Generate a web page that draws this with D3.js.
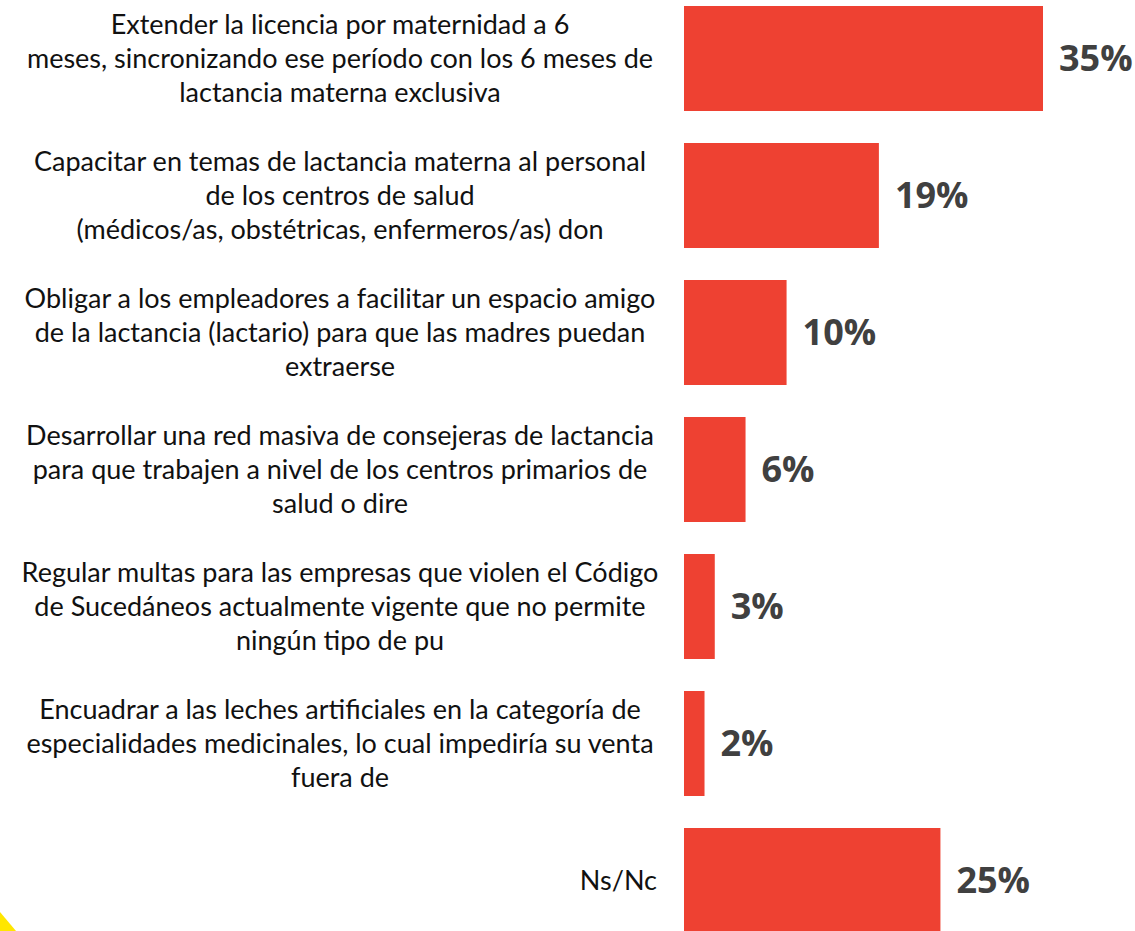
<!DOCTYPE html>
<html>
<head>
<meta charset="utf-8">
<script src="https://cdn.jsdelivr.net/npm/d3@7"></script>
<style>
  body { margin: 0; background: #fff; }
  svg { display: block; }
</style>
</head>
<body>
<svg id="chart" width="1135" height="931"></svg>
<script>
const categories = [
  "Extender la licencia por maternidad a 6 meses",
  "Capacitar en temas de lactancia materna",
  "Obligar a los empleadores",
  "Desarrollar una red masiva de consejeras",
  "Regular multas",
  "Encuadrar a las leches artificiales",
  "Ns/Nc"
];
const labelLines = [
  ["Extender la licencia por maternidad a 6", "meses, sincronizando ese período con los 6 meses de", "lactancia materna exclusiva"],
  ["Capacitar en temas de lactancia materna al personal", "de los centros de salud", "(médicos/as, obstétricas, enfermeros/as) don"],
  ["Obligar a los empleadores a facilitar un espacio amigo", "de la lactancia (lactario) para que las madres puedan", "extraerse"],
  ["Desarrollar una red masiva de consejeras de lactancia", "para que trabajen a nivel de los centros primarios de", "salud o dire"],
  ["Regular multas para las empresas que violen el Código", "de Sucedáneos actualmente vigente que no permite", "ningún tipo de pu"],
  ["Encuadrar a las leches artificiales en la categoría de", "especialidades medicinales, lo cual impediría su venta", "fuera de"],
  ["Ns/Nc"]
];
const values = [35, 19, 10, 6, 3, 2, 25];

const svg = d3.select('#chart');
const barLeft = 684;

const x = d3.scaleLinear()
  .domain([0, 35])
  .range([0, 359]);

const y = d3.scaleBand()
  .domain(categories)
  .range([-10, 949])
  .paddingInner(32 / 137)
  .paddingOuter(16 / 137);

// yellow corner decoration
svg.append('path')
  .attr('d', 'M0,912 L16,931 L0,931 Z')
  .attr('fill', '#FFE600');

svg.selectAll('rect.bar')
  .data(values)
  .join('rect')
  .attr('class', 'bar')
  .attr('x', barLeft)
  .attr('y', (d, i) => y(categories[i]))
  .attr('width', d => x(d))
  .attr('height', y.bandwidth())
  .attr('fill', '#EE4132');

svg.selectAll('text.val')
  .data(values)
  .join('text')
  .attr('class', 'val')
  .attr('x', d => barLeft + x(d) + 16)
  .attr('y', (d, i) => y(categories[i]) + y.bandwidth() / 2)
  .attr('dy', '0.36em')
  .attr('font-family', 'Open Sans, sans-serif')
  .attr('font-weight', 'bold')
  .attr('font-size', 36)
  .attr('fill', '#404040')
  .text(d => d + '%');

const lineH = 34;
const labels = svg.selectAll('g.lab')
  .data(labelLines)
  .join('g')
  .attr('class', 'lab')
  .attr('transform', (d, i) => `translate(0,${y(categories[i]) + y.bandwidth() / 2})`);

labels.each(function(lines) {
  const g = d3.select(this);
  const single = lines.length === 1;
  lines.forEach((t, j) => {
    g.append('text')
      .attr('x', single ? 657 : 340)
      .attr('y', (j - (lines.length - 1) / 2) * lineH)
      .attr('dy', '0.35em')
      .attr('text-anchor', single ? 'end' : 'middle')
      .attr('font-family', 'Lato, sans-serif')
      .attr('font-size', 27)
      .attr('fill', '#111')
      .text(t);
  });
});
</script>
</body>
</html>
